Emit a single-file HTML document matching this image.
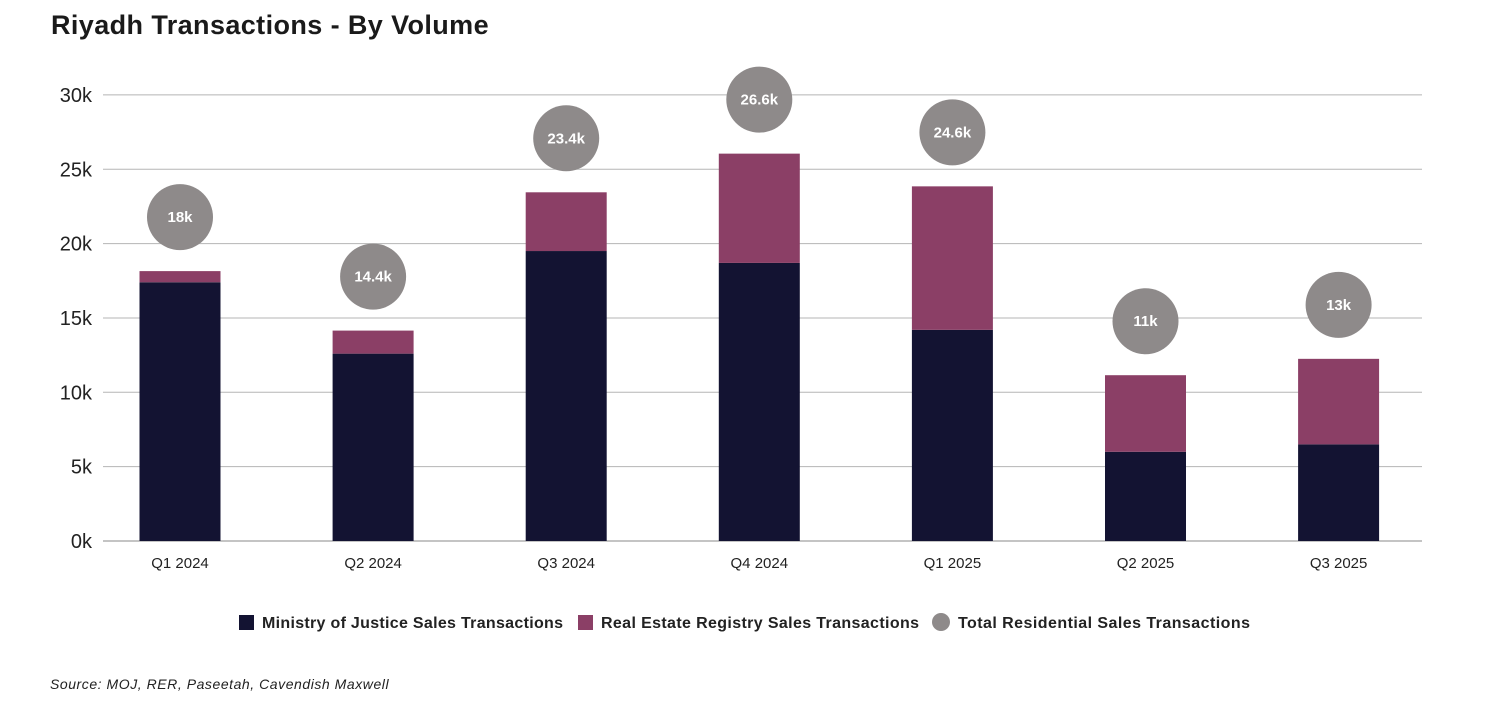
<!DOCTYPE html>
<html><head><meta charset="utf-8">
<style>
body{margin:0;background:#fff;width:1489px;height:715px;overflow:hidden;font-family:"Liberation Sans",sans-serif;}
#title{position:absolute;left:51px;top:10px;font-size:27px;font-weight:bold;color:#1a1a1a;letter-spacing:0.4px;}
#source{position:absolute;left:50px;top:676px;font-size:14px;font-style:italic;color:#222;letter-spacing:0.55px;}
</style></head>
<body>
<div id="title">Riyadh Transactions - By Volume</div>
<svg id="chart" width="1489" height="715" style="position:absolute;left:0;top:0"></svg>
<div id="source">Source: MOJ, RER, Paseetah, Cavendish Maxwell</div>
<script>
const categories=["Q1 2024","Q2 2024","Q3 2024","Q4 2024","Q1 2025","Q2 2025","Q3 2025"];
const mojValues=[17.4,12.6,19.5,18.7,14.2,6.0,6.5];
const rerValues=[0.75,1.55,3.95,7.35,9.65,5.15,5.75];
const totalLabels=["18k","14.4k","23.4k","26.6k","24.6k","11k","13k"];
const yTicks=[0,5,10,15,20,25,30];
const NS="http://www.w3.org/2000/svg";
const svg=document.getElementById('chart');
const y0=541,pxPerK=14.87;
const y=v=>y0-v*pxPerK;
const x=i=>180+i*193.1;
const bw=81;
function mk(t,a){const e=document.createElementNS(NS,t);for(const k in a)e.setAttribute(k,a[k]);svg.appendChild(e);return e;}
yTicks.forEach(t=>{
  const l=mk('line',{x1:103,x2:1422,y1:y(t),y2:y(t),stroke:t===0?'#888':'#b5b5b5','stroke-width':1});
  
  
  const tx=mk('text',{x:92,y:y(t)+7,'text-anchor':'end','font-size':20,fill:'#222'});
  tx.textContent=t+'k';
  
  
});
categories.forEach((c,i)=>{
  const m=mojValues[i],r=rerValues[i];
  const b1=mk('rect',{x:x(i)-bw/2,y:y(m),width:bw,height:y(0)-y(m),fill:'#131332'});
  
  
  const b2=mk('rect',{x:x(i)-bw/2,y:y(m+r),width:bw,height:y(m)-y(m+r),fill:'#8b3f66'});
  
  
  const cy=y(m+r)-54;
  const ci=mk('circle',{cx:x(i),cy:cy,r:33,fill:'#8e8a8a'});
  
  
  const lt=mk('text',{x:x(i),y:cy+5,'text-anchor':'middle','font-size':15,'font-weight':'bold',fill:'#fff'});
  lt.textContent=totalLabels[i];
  
  
  const xt=mk('text',{x:x(i),y:568,'text-anchor':'middle','font-size':15,fill:'#222'});
  xt.textContent=c;
  
  
});
const legend=[["sq","#131332","Ministry of Justice Sales Transactions",239,301],["sq","#8b3f66","Real Estate Registry Sales Transactions",578,318],["ci","#8e8a8a","Total Residential Sales Transactions",932,292]];
legend.forEach(([k,col,txt,lx,tl])=>{
  let s;
  if(k==='sq') s=mk('rect',{x:lx,y:615,width:15,height:15,fill:col});
  else s=mk('circle',{cx:lx+9,cy:622,r:9,fill:col});
  
  
  const t=mk('text',{x:lx+(k==='sq'?23:26),y:628,'font-size':16,'font-weight':'bold',fill:'#222',textLength:tl,lengthAdjust:'spacing'});
  t.textContent=txt;
  
  
});
</script>
</body></html>
